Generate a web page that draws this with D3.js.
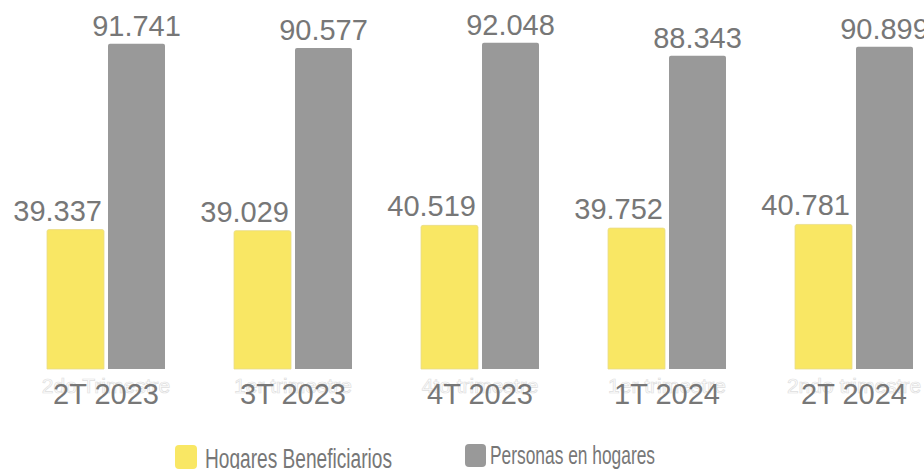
<!DOCTYPE html>
<html>
<head>
<meta charset="utf-8">
<script src="https://cdn.jsdelivr.net/npm/d3@7"></script>
<style>
  html, body { margin: 0; padding: 0; background: #fff; }
  svg { display: block; font-family: "Liberation Sans", Arial, sans-serif; }
</style>
</head>
<body>
<div id="chart"></div>
<script>
const width = 924;
const height = 469;

// data
const periods = ["2T 2023", "3T 2023", "4T 2023", "1T 2024", "2T 2024"];
const ghostLabels = ["2do Trimestre", "1er trimestre", "4to trimestre", "1er trimestre", "2ndo trimestre"];
const hogares = [39.337, 39.029, 40.519, 39.752, 40.781];
const personas = [91.741, 90.577, 92.048, 88.343, 90.899];
const seriesNames = ["Hogares Beneficiarios", "Personas en hogares"];
const seriesColors = ["#f9e764", "#999999"];

const fmt = v => v.toFixed(3);
const textColor = "#777777";

const svg = d3.select("#chart").append("svg")
    .attr("width", width)
    .attr("height", height);

const x0 = d3.scaleBand()
    .domain(periods)
    .range([47, 913])
    .paddingInner(0.369)
    .paddingOuter(0);

const x1 = d3.scaleBand()
    .domain([0, 1])
    .range([0, x0.bandwidth()])
    .paddingInner(0.0656);

const y = d3.scaleLinear()
    .domain([0, 100])
    .range([369, 14.5]);

const rows = periods.map((p, i) => ({ period: p, ghost: ghostLabels[i], values: [hogares[i], personas[i]] }));

const groups = svg.append("g").attr("class", "groups")
    .selectAll("g")
    .data(rows)
    .enter()
    .append("g")
    .attr("transform", d => "translate(" + x0(d.period) + ",0)");

// bars, slightly rounded tops
groups.selectAll("path.bar")
    .data(d => d.values.map((v, k) => ({ v: v, k: k })))
    .enter()
    .append("path")
    .attr("class", "bar")
    .attr("fill", d => seriesColors[d.k])
    .attr("stroke", d => d.k === 0 ? "#e8dc8a" : "none")
    .attr("stroke-width", 0.8)
    .attr("d", d => {
        const bx = x1(d.k), bw = x1.bandwidth(), top = y(d.v), bot = y(0), r = 2;
        return "M" + bx + "," + bot + "V" + (top + r) + "Q" + bx + "," + top + " " + (bx + r) + "," + top +
            "H" + (bx + bw - r) + "Q" + (bx + bw) + "," + top + " " + (bx + bw) + "," + (top + r) + "V" + bot + "Z";
    });

// value labels: hogares end-anchored at bar right, personas centered
groups.selectAll("text.value")
    .data(d => d.values.map((v, k) => ({ v: v, k: k })))
    .enter()
    .append("text")
    .attr("class", "value")
    .attr("x", d => d.k === 0 ? x1(0) + x1.bandwidth() - 2 : x1(1) + x1.bandwidth() / 2)
    .attr("y", d => y(d.v) - (d.k === 0 ? 9 : 8))
    .attr("text-anchor", d => d.k === 0 ? "end" : "middle")
    .attr("font-size", 29)
    .attr("fill", textColor)
    .text(d => fmt(d.v));

// faint original category labels behind the new ones
groups.append("text")
    .attr("x", x0.bandwidth() / 2)
    .attr("y", 393)
    .attr("text-anchor", "middle")
    .attr("font-size", 21)
    .attr("fill", "#ffffff")
    .attr("stroke", "#dedede")
    .attr("stroke-width", 0.7)
    .text(d => d.ghost);

groups.append("text")
    .attr("x", x0.bandwidth() / 2)
    .attr("y", 404)
    .attr("text-anchor", "middle")
    .attr("font-size", 29)
    .attr("fill", textColor)
    .text(d => d.period);

// legend
const legendX = [175, 465];
const legendY = [445, 444];
const legendSize = [22, 21];
const legendText = [{ x: 205, y: 468, fs: 27, len: 187 }, { x: 490, y: 463.5, fs: 25.5, len: 165 }];

const legend = svg.append("g").attr("class", "legend")
    .selectAll("g")
    .data(seriesNames)
    .enter()
    .append("g");

legend.append("rect")
    .attr("x", (d, i) => legendX[i])
    .attr("y", (d, i) => legendY[i])
    .attr("width", (d, i) => legendSize[i])
    .attr("height", (d, i) => legendSize[i] + 2)
    .attr("rx", 4)
    .attr("fill", (d, i) => seriesColors[i]);

legend.append("text")
    .attr("x", (d, i) => legendText[i].x)
    .attr("y", (d, i) => legendText[i].y)
    .attr("font-size", (d, i) => legendText[i].fs)
    .attr("textLength", (d, i) => legendText[i].len)
    .attr("lengthAdjust", "spacingAndGlyphs")
    .attr("fill", textColor)
    .text(d => d);
</script>
</body>
</html>
